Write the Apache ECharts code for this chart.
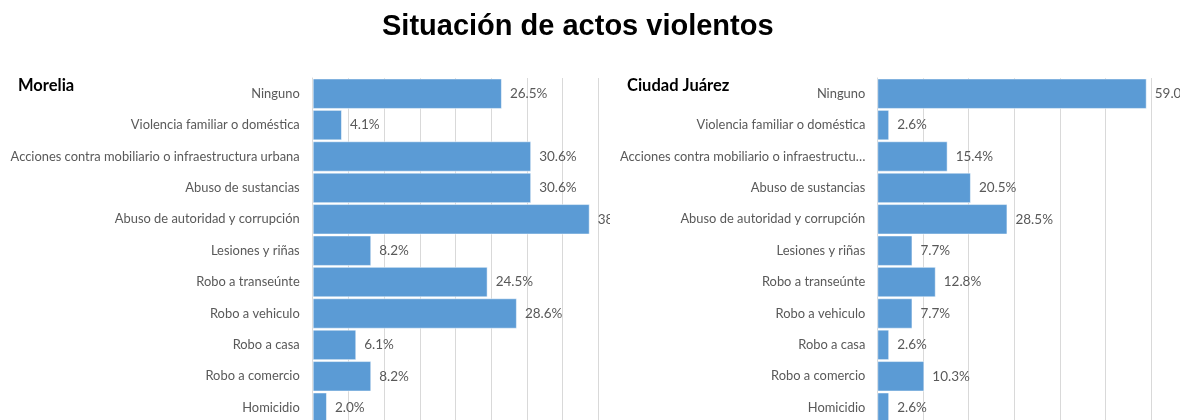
<!DOCTYPE html>
<html>
<head>
<meta charset="utf-8">
<script src="https://cdn.jsdelivr.net/npm/echarts@6/dist/echarts.min.js"></script>
<style>
html,body{margin:0;padding:0;width:1189px;height:420px;overflow:hidden;background:#fff;}
#title{position:absolute;left:0;top:0;width:1189px;height:420px;}
#left{position:absolute;left:0;top:0;width:610px;height:430px;overflow:hidden;}
#right{position:absolute;left:610px;top:0;width:570px;height:430px;overflow:hidden;}
</style>
</head>
<body>
<div id="title"></div>
<div id="left"></div>
<div id="right"></div>
<script>
const mainTitle = 'Situación de actos violentos';
const categories = ['Ninguno','Violencia familiar o doméstica','Acciones contra mobiliario o infraestructura urbana','Abuso de sustancias','Abuso de autoridad y corrupción','Lesiones y riñas','Robo a transeúnte','Robo a vehiculo','Robo a casa','Robo a comercio','Homicidio'];
const moreliaName = 'Morelia';
const moreliaValues = [26.5,4.1,30.6,30.6,38.8,8.2,24.5,28.6,6.1,8.2,2.0];
const juarezName = 'Ciudad Juárez';
const juarezValues = [59.0,2.6,15.4,20.5,28.5,7.7,12.8,7.7,2.6,10.3,2.6];

const font = 'Lato';
const blue = '#5B9BD5';
const grey = '#595959';

const tChart = echarts.init(document.getElementById('title'), null, {renderer:'canvas'});
tChart.setOption({
  animation:false,
  title:{text:mainTitle,left:377,top:7,textStyle:{fontFamily:'Liberation Sans',fontWeight:'bold',fontSize:29,color:'#000'}}
});

function panel(el, name, values, opts){
  const c = echarts.init(document.getElementById(el), null, {renderer:'canvas'});
  c.setOption({
    animation:false,
    title:{text:name,left:opts.titleLeft,top:72,textStyle:{fontFamily:font,fontWeight:'bold',fontSize:16.5,color:'#000'}},
    grid:{left:opts.left,width:opts.width,top:78,height:345.4,containLabel:false},
    xAxis:{type:'value',min:0,max:opts.max,interval:opts.interval,
      axisLabel:{show:false},axisTick:{show:false},axisLine:{show:false},
      splitLine:{show:true,lineStyle:{color:'#D9D9D9',width:1}}},
    yAxis:{type:'category',data:categories,inverse:true,
      axisTick:{show:false},
      axisLine:{show:true,lineStyle:{color:'#D9D9D9',width:1}},
      axisLabel:{color:grey,fontFamily:font,fontSize:12.9,margin:opts.margin,
        width:opts.labelWidth,overflow:'truncate',ellipsis:'…'}},
    series:[{type:'bar',data:values,barCategoryGap:'3%',
      itemStyle:{color:blue,borderColor:'rgba(255,255,255,0.5)',borderWidth:1},
      label:{show:true,position:'right',distance:8,color:grey,fontFamily:font,fontSize:13.5,
        formatter:p=>p.value.toFixed(1)+'%'}}]
  });
}
panel('left', moreliaName, moreliaValues, {titleLeft:13,left:312.7,width:285.6,max:40,interval:5,margin:13,labelWidth:320});
panel('right', juarezName, juarezValues, {titleLeft:12,left:267.3,width:274,max:60,interval:10,margin:12,labelWidth:250});
</script>
</body>
</html>
